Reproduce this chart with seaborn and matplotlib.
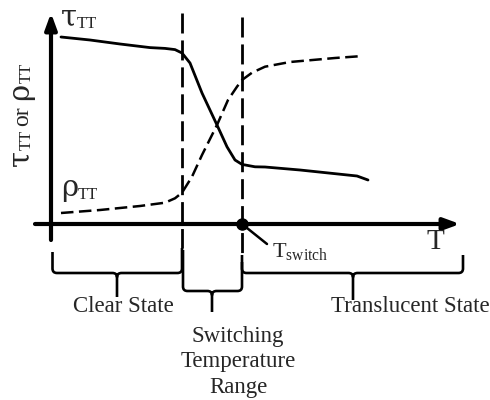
import numpy as np
import pandas as pd
import seaborn as sns
import matplotlib
matplotlib.use("Agg")
import matplotlib.pyplot as plt
from matplotlib.path import Path
from matplotlib.patches import PathPatch
from matplotlib.transforms import offset_copy

# Schematic transmittance / reflectance of a thermotropic layer vs temperature
T_tau = [1.0, 3.9, 6.9, 9.9, 11.4, 12.4, 13.1, 13.9, 15.1, 16.6, 17.6, 18.4,
         19.1, 20.4, 21.4, 24.9, 30.6, 31.7]
tau = [93.5, 92.0, 90.0, 88.2, 87.8, 87.2, 85.5, 80.5, 65.5, 49.5, 38.6, 32.0,
       29.8, 28.6, 28.5, 27.0, 24.0, 22.0]

T_rho = [1.0, 4.9, 8.9, 11.4, 12.4, 13.1, 14.1, 15.1, 16.6, 17.7, 18.6, 19.1,
         20.1, 21.4, 23.9, 28.4, 31.2]
rho = [5.5, 7.0, 9.0, 10.65, 12.85, 15.65, 23.65, 34.5, 49.5, 62.0, 68.65, 72.0,
       75.65, 78.65, 81.0, 83.0, 84.0]

T_range_start = 13.1   # onset of the switching range
T_switch = 19.1        # switching temperature

region_labels = ["Clear State", "Switching\nTemperature\nRange", "Translucent State"]

sns.set_style("white")
plt.rcParams["font.family"] = ["Liberation Serif", "DejaVu Serif"]
plt.rcParams["mathtext.fontset"] = "custom"
plt.rcParams["mathtext.rm"] = "Liberation Serif"
plt.rcParams["mathtext.it"] = "Liberation Serif:italic"

SERIF = ["Liberation Serif", "DejaVu Serif"]
GREEK = ["DejaVu Serif"]

fig = plt.figure(figsize=(4.9, 4.0), dpi=100)
ax = fig.add_axes([0, 0, 1, 1])
ax.set_xlim(-5.1, 43.9)
ax.set_ylim(-88, 112)
ax.axis("off")

df_tau = pd.DataFrame({"T": T_tau, "v": tau})
df_rho = pd.DataFrame({"T": T_rho, "v": rho})
sns.lineplot(data=df_tau, x="T", y="v", ax=ax, color="black", lw=2.0, sort=False)
sns.lineplot(data=df_rho, x="T", y="v", ax=ax, color="black", lw=1.8, sort=False)
ax.lines[-1].set_dashes((5.0, 2.2))

# axes drawn as arrows
arrow_kw = dict(arrowstyle="-|>,head_length=0.6,head_width=0.22", color="black",
                lw=3.0, shrinkA=0, shrinkB=0, mutation_scale=16)
ax.annotate("", xy=(0, 105.5), xytext=(0, -8), arrowprops=arrow_kw)
ax.annotate("", xy=(40.9, 0), xytext=(-1.6, 0), arrowprops=arrow_kw)

# boundaries of the switching range
ax.plot([T_range_start, T_range_start], [105.5, -12], color="black", lw=2.0,
        dashes=(7.2, 2.5))
ax.plot([T_switch, T_switch], [103.5, -15], color="black", lw=2.0,
        dashes=(7.2, 2.5))
ax.plot([T_switch], [0], "o", color="black", ms=8)

# T_switch leader and label
ax.plot([T_switch, T_switch + 2.5], [0, -10], color="black", lw=1.8)
ax.text(T_switch + 3.0, -16.5, r"$\mathrm{T_{switch}}$", fontsize=16,
        ha="left", va="baseline")

ax.text(38.4, -9, "T", fontsize=21, ha="center", va="center")

renderer = fig.canvas.get_renderer()


def compose(x, y, pieces, rotation=0):
    """Lay out text pieces one after another along the baseline (in pixels)."""
    adv = 0.0
    for s, size, fam, shift, gap in pieces:
        adv += gap
        if rotation == 0:
            dx, dy = adv, shift
        else:
            dx, dy = -shift, adv
        tr = offset_copy(ax.transData, fig=fig, x=dx, y=dy, units="dots")
        t = ax.text(x, y, s, fontsize=size, family=fam, ha="left", va="baseline",
                    rotation=rotation, rotation_mode="anchor", transform=tr)
        bb = t.get_window_extent(renderer)
        adv += bb.width if rotation == 0 else bb.height


def sym(greek, gap=0):
    return [(greek, 21, GREEK, 0, gap), ("TT", 12, SERIF, -3, 0)]


compose(1.0, 99.5, sym("τ"))
compose(1.0, 14.0, sym("ρ"))
compose(-2.3, 29.0, sym("τ") + [("or", 17, SERIF, 0, 4)] + sym("ρ", gap=6),
        rotation=90)


def brace(x0, x1, xm, ytop0, ytop1, yh, ytip, rx=0.45, ry=2.2):
    verts = [(x0, ytop0), (x0, yh + ry), (x0, yh), (x0 + rx, yh),
             (xm - rx, yh), (xm, yh), (xm, yh - ry), (xm, ytip),
             (xm, yh - ry), (xm, yh), (xm + rx, yh),
             (x1 - rx, yh), (x1, yh), (x1, yh + ry), (x1, ytop1)]
    codes = [Path.MOVETO, Path.LINETO, Path.CURVE3, Path.CURVE3,
             Path.LINETO, Path.CURVE3, Path.CURVE3, Path.LINETO,
             Path.MOVETO, Path.CURVE3, Path.CURVE3,
             Path.LINETO, Path.CURVE3, Path.CURVE3, Path.LINETO]
    ax.add_patch(PathPatch(Path(verts, codes), fill=False, lw=1.9,
                           edgecolor="black", capstyle="butt", joinstyle="round"))


brace(0.15, T_range_start, 6.6, -14, -12, -24.5, -36.5)
brace(T_range_start + 0.1, T_switch, 16.1, -13, -15.5, -33.5, -44)
brace(T_switch, 41.2, 30.2, -19, -15.5, -24.5, -38)

ax.text(7.2, -41, region_labels[0], fontsize=16.5, ha="center", va="center")
ax.text(18.7, -69, region_labels[1], fontsize=16.5, ha="center", va="center",
        linespacing=1.3)
ax.text(35.9, -41, region_labels[2], fontsize=16.5, ha="center", va="center")

fig.savefig("out.png", dpi=100)
